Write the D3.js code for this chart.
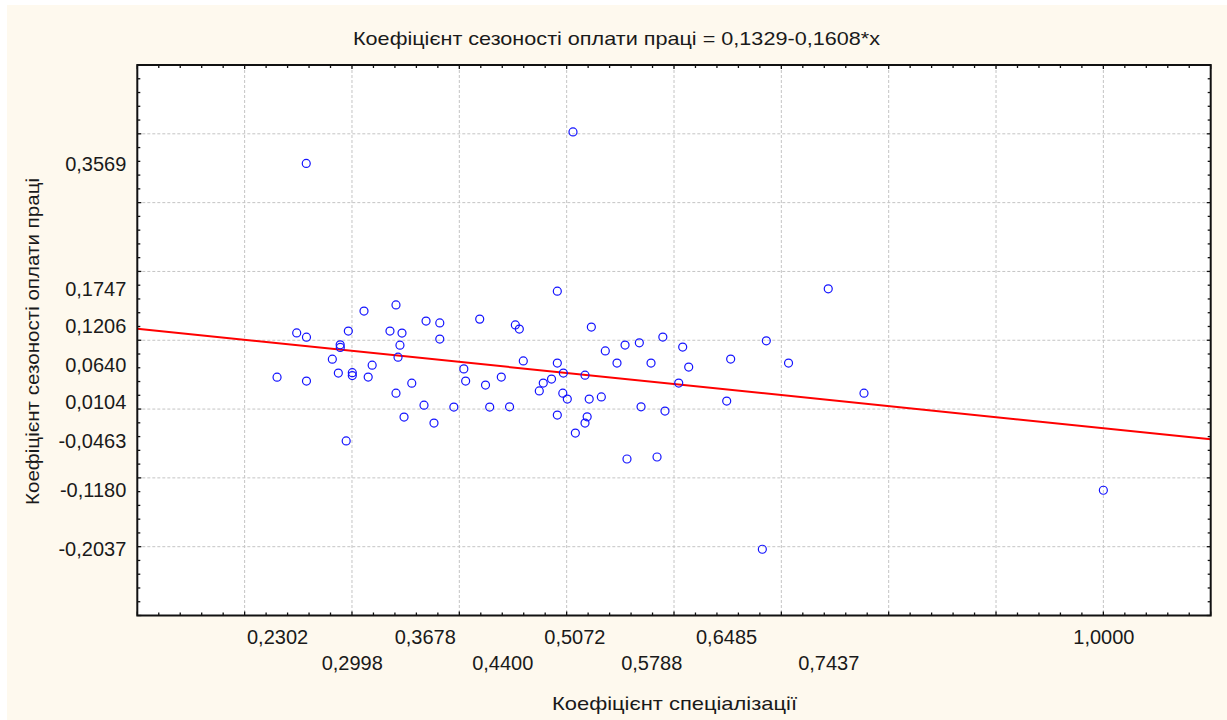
<!DOCTYPE html>
<html>
<head>
<meta charset="utf-8">
<script src="https://cdn.jsdelivr.net/npm/d3@7/dist/d3.min.js"></script>
<style>
  html, body { margin: 0; padding: 0; background: #ffffff; }
  svg { display: block; }
  text { font-family: "Liberation Sans", Arial, sans-serif; fill: #1a1a1a; }
</style>
</head>
<body>
<svg id="chart" width="1227" height="720"></svg>
<script>
// ---- data ----
const titleText = "Коефіцієнт сезоності оплати праці = 0,1329-0,1608*x";
const xAxisTitle = "Коефіцієнт спеціалізації";
const yAxisTitle = "Коефіцієнт сезоності оплати праці";

const regIntercept = 0.1329;
const regSlope = -0.1608;

const xTickLabels = [0.2302, 0.2998, 0.3678, 0.4400, 0.5072, 0.5788, 0.6485, 0.7437, 1.0000];
const yTickLabels = [0.3569, 0.1747, 0.1206, 0.0640, 0.0104, -0.0463, -0.1180, -0.2037];

const xValues = [
  0.2302, 0.2485, 0.2576, 0.2576, 0.2574, 0.2817, 0.2873, 0.2890, 0.2891, 0.2946,
  0.2966, 0.3003, 0.3003, 0.3112, 0.3151, 0.3188, 0.3354, 0.3410, 0.3410, 0.3447,
  0.3429, 0.3466, 0.3485, 0.3557, 0.3671, 0.3690, 0.3764, 0.3818, 0.3818, 0.3949,
  0.4042, 0.4059, 0.4190, 0.4244, 0.4283, 0.4391, 0.4468, 0.4522, 0.4559, 0.4596,
  0.4745, 0.4782, 0.4859, 0.4913, 0.4913, 0.4913, 0.4969, 0.4964, 0.5006, 0.5059,
  0.5081, 0.5171, 0.5191, 0.5171, 0.5210, 0.5230, 0.5323, 0.5360, 0.5469, 0.5544,
  0.5562, 0.5677, 0.5693, 0.5786, 0.5842, 0.5896, 0.5916, 0.6044, 0.6081, 0.6137,
  0.6491, 0.6528, 0.6823, 0.6860, 0.7067, 0.7437, 0.7770, 1.0000
];
const yValues = [
  0.0463, 0.1107, 0.1044, 0.0407, 0.3569, 0.0725, 0.0523, 0.0933, 0.0896, -0.0463,
  0.1133, 0.0529, 0.0487, 0.1424, 0.0465, 0.0638, 0.1133, 0.1514, 0.0231, 0.0928,
  0.0754, 0.1104, -0.0116, 0.0376, 0.0057, 0.1278, -0.0203, 0.1252, 0.1017, 0.0029,
  0.0584, 0.0407, 0.1307, 0.0349, 0.0029, 0.0465, 0.0032, 0.1223, 0.1162, 0.0700,
  0.0264, 0.0378, 0.0436, 0.1713, 0.0668, -0.0087, 0.0523, 0.0231, 0.0145, 0.4027,
  -0.0349, 0.0492, -0.0113, -0.0203, 0.0145, 0.1191, 0.0177, 0.0845, 0.0668, 0.0930,
  -0.0726, 0.0962, 0.0032, 0.0668, -0.0697, 0.1046, -0.0029, 0.0378, 0.0901, 0.0610,
  0.0116, 0.0726, -0.2037, 0.0991, 0.0668, 0.1747, 0.0231, -0.1180
];

// ---- layout ----
const W = 1227, H = 720;
const plot = { left: 137.3, right: 1210.7, top: 65, bottom: 615.5 };

const svg = d3.select("#chart");
svg.append("rect").attr("x", 0).attr("y", 0).attr("width", W).attr("height", H).attr("fill", "#ffffff");
svg.append("rect").attr("x", 7).attr("y", 5).attr("width", W - 7).attr("height", H - 5).attr("fill", "#fef9ee");

const x = d3.scaleLinear().domain([0.1, 1.1]).range([plot.left, plot.right]);
const y = d3.scaleLinear().domain([-0.3, 0.5]).range([plot.bottom, plot.top]);

const loc = d3.formatLocale({ decimal: ",", thousands: " ", grouping: [3], currency: ["", ""], minus: "-" });
const fmt = loc.format(".4f");

// plot background
svg.append("rect")
  .attr("x", plot.left).attr("y", plot.top)
  .attr("width", plot.right - plot.left).attr("height", plot.bottom - plot.top)
  .attr("fill", "#ffffff");

// grid
const xMajor = x.ticks(10);
const yMajor = y.ticks(8);
const gGrid = svg.append("g").attr("stroke", "#c4c4c4").attr("stroke-width", 1).attr("stroke-dasharray", "3,2");
gGrid.selectAll("line.vx").data(xMajor.filter(v => v > 0.1001 && v < 1.0999)).enter().append("line")
  .attr("x1", d => x(d)).attr("x2", d => x(d)).attr("y1", plot.top).attr("y2", plot.bottom);
gGrid.selectAll("line.hy").data(yMajor.filter(v => v > -0.2999 && v < 0.4999)).enter().append("line")
  .attr("y1", d => y(d)).attr("y2", d => y(d)).attr("x1", plot.left).attr("x2", plot.right);

// ticks (inward) on all four sides
const xMinor = x.ticks(40);
const yMinor = y.ticks(32);
const isMajor = (v) => Math.abs(Math.round(v * 10) - v * 10) < 1e-6;
const gTicks = svg.append("g").attr("stroke", "#111").attr("stroke-width", 1.3);
xMinor.forEach(v => {
  const len = isMajor(v) ? 4 : 3;
  gTicks.append("line").attr("x1", x(v)).attr("x2", x(v)).attr("y1", plot.bottom).attr("y2", plot.bottom - len);
  gTicks.append("line").attr("x1", x(v)).attr("x2", x(v)).attr("y1", plot.top).attr("y2", plot.top + len);
});
yMinor.forEach(v => {
  const len = isMajor(v) ? 4 : 3;
  gTicks.append("line").attr("y1", y(v)).attr("y2", y(v)).attr("x1", plot.left).attr("x2", plot.left + len);
  gTicks.append("line").attr("y1", y(v)).attr("y2", y(v)).attr("x1", plot.right).attr("x2", plot.right - len);
});

// clip
svg.append("clipPath").attr("id", "clip").append("rect")
  .attr("x", plot.left).attr("y", plot.top)
  .attr("width", plot.right - plot.left).attr("height", plot.bottom - plot.top);

// regression line
const xd = x.domain();
svg.append("line")
  .attr("clip-path", "url(#clip)")
  .attr("x1", x(xd[0])).attr("y1", y(regIntercept + regSlope * xd[0]))
  .attr("x2", x(xd[1])).attr("y2", y(regIntercept + regSlope * xd[1]))
  .attr("stroke", "#ff0000").attr("stroke-width", 2);

// points
const pts = xValues.map((v, i) => ({ x: v, y: yValues[i] }));
svg.append("g").attr("clip-path", "url(#clip)")
  .selectAll("circle").data(pts).enter().append("circle")
  .attr("cx", d => x(d.x)).attr("cy", d => y(d.y)).attr("r", 4)
  .attr("fill", "none").attr("stroke", "#1414ff").attr("stroke-width", 1.2);

// frame
svg.append("rect")
  .attr("x", plot.left).attr("y", plot.top)
  .attr("width", plot.right - plot.left).attr("height", plot.bottom - plot.top)
  .attr("fill", "none").attr("stroke", "#111").attr("stroke-width", 2);

// x axis labels (staggered)
const xAxis = d3.axisBottom(x).tickValues(xTickLabels).tickSize(0).tickPadding(0).tickFormat(fmt);
const gx = svg.append("g").attr("transform", `translate(0,${plot.bottom})`).call(xAxis);
gx.select(".domain").remove();
gx.selectAll("text")
  .attr("dy", null)
  .attr("y", (d, i) => (i % 2 === 0 ? 28 : 54))
  .style("font-size", "20px")
  .style("font-family", "Liberation Sans, Arial, sans-serif")
  .attr("fill", "#1a1a1a");

// y axis labels
const yAxis = d3.axisLeft(y).tickValues(yTickLabels).tickSize(0).tickPadding(11).tickFormat(fmt);
const gy = svg.append("g").attr("transform", `translate(${plot.left},0)`).call(yAxis);
gy.select(".domain").remove();
gy.selectAll("text")
  .attr("dy", "0.33em")
  .style("font-size", "20px")
  .style("font-family", "Liberation Sans, Arial, sans-serif")
  .attr("fill", "#1a1a1a");

// titles
svg.append("text").attr("x", 616.5).attr("y", 45).attr("text-anchor", "middle")
  .attr("textLength", 527).attr("lengthAdjust", "spacingAndGlyphs")
  .style("font-size", "19px").text(titleText);
svg.append("text").attr("x", 674.5).attr("y", 710).attr("text-anchor", "middle")
  .attr("textLength", 245).attr("lengthAdjust", "spacingAndGlyphs")
  .style("font-size", "19px").text(xAxisTitle);
svg.append("text").attr("transform", `translate(39,341.5) rotate(-90)`).attr("text-anchor", "middle")
  .attr("textLength", 327).attr("lengthAdjust", "spacingAndGlyphs")
  .style("font-size", "19px").text(yAxisTitle);
</script>
</body>
</html>
